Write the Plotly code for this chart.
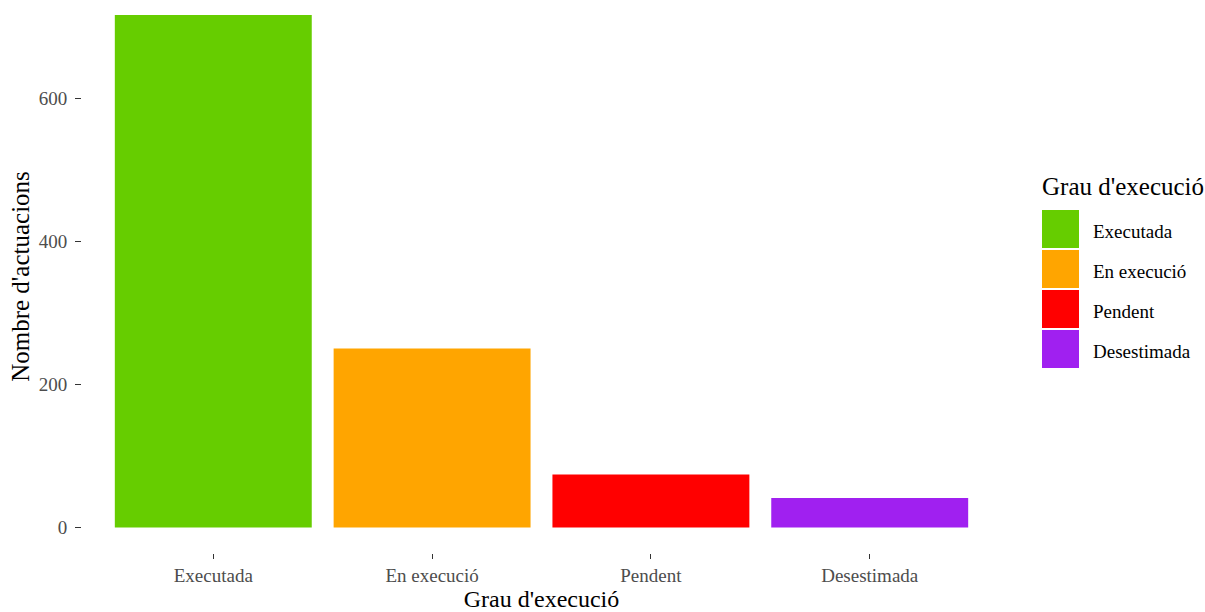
import plotly.graph_objects as go

categories = ["Executada", "En execució", "Pendent", "Desestimada"]
values = [716, 250, 74, 41]
colors = ["#66CD00", "#FFA500", "#FF0000", "#A020F0"]
legend_title = "Grau d'execució"
x_title = "Grau d'execució"
y_title = "Nombre d'actuacions"
y_ticks = [0, 200, 400, 600]

W, H = 1205, 612
ML, MR, MT, MB = 82, 204, 0, 59
PW, PH = W - ML - MR, H - MT - MB
FONT = "Liberation Serif, Times New Roman, serif"

fig = go.Figure()
fig.add_trace(go.Bar(
    x=categories, y=values, width=0.9,
    marker=dict(color=colors, line=dict(width=0)),
    showlegend=False,
))

def px_x(px):
    return (px - ML) / PW

def px_y(py):
    return (H - MB - py) / PH

# Legend (ggplot style large keys)
shapes = []
annotations = []
annotations.append(dict(
    x=px_x(1040), y=px_y(186), xref="paper", yref="paper",
    text=legend_title, showarrow=False, xanchor="left", yanchor="middle",
    font=dict(family=FONT, size=25, color="black"),
))
for i, (cat, col) in enumerate(zip(categories, colors)):
    top = 210 + 40 * i
    shapes.append(dict(
        type="rect", xref="paper", yref="paper",
        x0=px_x(1042), x1=px_x(1079), y0=px_y(top), y1=px_y(top + 38),
        fillcolor=col, line=dict(width=0),
    ))
    annotations.append(dict(
        x=px_x(1091), y=px_y(top + 21), xref="paper", yref="paper",
        text=cat, showarrow=False, xanchor="left", yanchor="middle",
        font=dict(family=FONT, size=19, color="black"),
    ))

fig.update_layout(
    width=W, height=H,
    margin=dict(l=ML, r=MR, t=MT, b=MB, pad=0),
    paper_bgcolor="white", plot_bgcolor="white",
    font=dict(family=FONT),
    bargap=0.1,
    shapes=shapes, annotations=annotations,
    xaxis=dict(
        type="category", range=[-0.6, 3.6], showgrid=False, zeroline=False,
        showline=False, ticks="outside", ticklen=5, tickwidth=1, tickcolor="#333333",
        tickfont=dict(family=FONT, size=19, color="#4D4D4D"),
        title=dict(text=x_title, font=dict(family=FONT, size=24, color="black"), standoff=2),
        fixedrange=True,
    ),
    yaxis=dict(
        range=[-35.8, 737], showgrid=False, zeroline=False, showline=False,
        tickvals=y_ticks, ticks="outside", ticklen=6, tickwidth=1, tickcolor="#333333",
        tickfont=dict(family=FONT, size=19, color="#4D4D4D"),
        ticklabelstandoff=4,
        title=dict(text=y_title, font=dict(family=FONT, size=25, color="black"), standoff=1),
        fixedrange=True,
    ),
)

fig.write_html(
    "out.html",
    config={"displayModeBar": False},
    post_script="document.body.style.margin='0';document.body.style.overflow='hidden';",
)
